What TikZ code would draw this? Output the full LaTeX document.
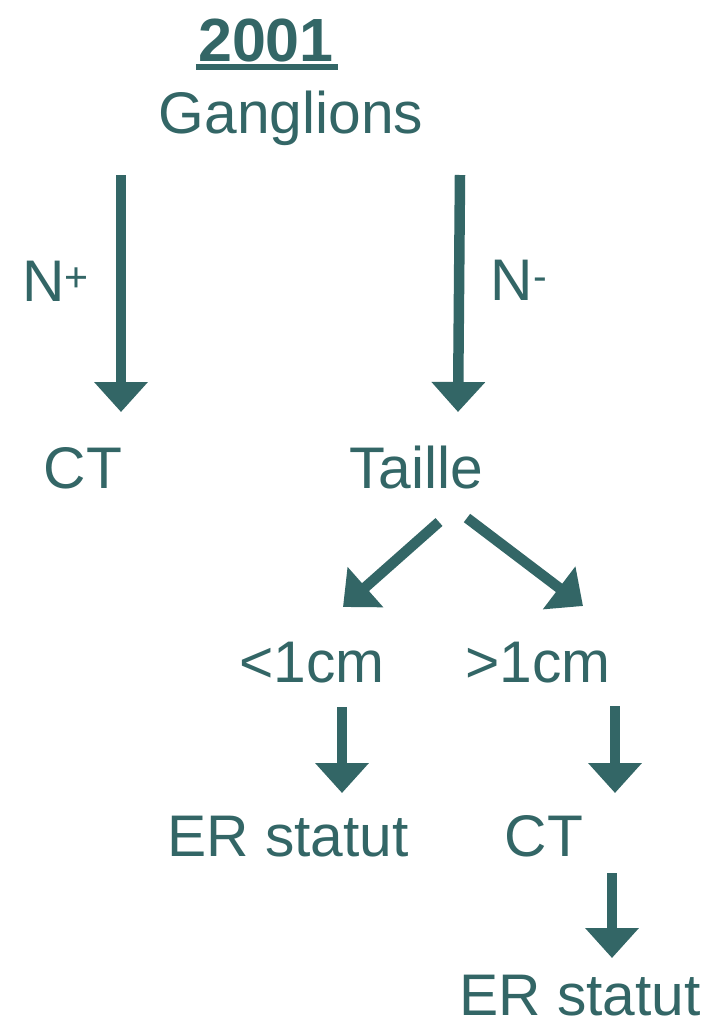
\documentclass[tikz,border=0pt]{standalone}
\usepackage{fontspec}
\setmainfont{Liberation Sans}
\usetikzlibrary{arrows.meta}
\definecolor{teal1}{HTML}{336666}
\begin{document}
\begin{tikzpicture}[x=1pt,y=-1pt,
  lbl/.style={text=teal1,inner sep=0pt,anchor=base,font=\fontsize{58.7}{70}\selectfont},
  arr/.style={draw=teal1,line width=10.5pt,-{Triangle[width=52pt,length=30pt]}}]
\useasboundingbox[fill=white] (0,0) rectangle (707,1026);
% texts
\node[lbl,font=\fontsize{61}{70}\selectfont\bfseries] (yr) at (266,61) {2001};
\node[lbl] (gang) at (291,133) {Ganglions};
\node[lbl] (np) at (56,301) {N\textsuperscript{+}};
\node[lbl] (nm) at (519,300) {N\textsuperscript{-}};
\node[lbl] (ct1) at (83,488) {CT};
\node[lbl] (taille) at (416,488) {Taille};
\node[lbl] (lt) at (312,682) {<1cm};
\node[lbl] (gt) at (538,682) {>1cm};
\node[lbl] (er1) at (288,856) {ER statut};
\node[lbl] (ct2) at (544,856) {CT};
\node[lbl] (er2) at (580,1015) {ER statut};
% underline
\draw[teal1,line width=6.5pt] ([yshift=-6pt,xshift=-2pt]yr.base west) -- ([yshift=-6pt,xshift=4pt]yr.base east);
% connector endpoints
\coordinate (a1s) at (121,175); \coordinate (a1e) at (121,412);
\coordinate (a2s) at (460,175); \coordinate (a2e) at (458,412);
\coordinate (a3s) at (439,522); \coordinate (a3e) at (343,607);
\coordinate (a4s) at (467,518); \coordinate (a4e) at (583,606);
\coordinate (a5s) at (342,707); \coordinate (a5e) at (342,793);
\coordinate (a6s) at (615,706); \coordinate (a6e) at (615,793);
\coordinate (a7s) at (612,873); \coordinate (a7e) at (612,958);
\draw[arr] (a1s) -- (a1e);
\draw[arr] (a2s) -- (a2e);
\draw[arr] (a3s) -- (a3e);
\draw[arr] (a4s) -- (a4e);
\draw[arr] (a5s) -- (a5e);
\draw[arr] (a6s) -- (a6e);
\draw[arr] (a7s) -- (a7e);
\end{tikzpicture}
\end{document}
